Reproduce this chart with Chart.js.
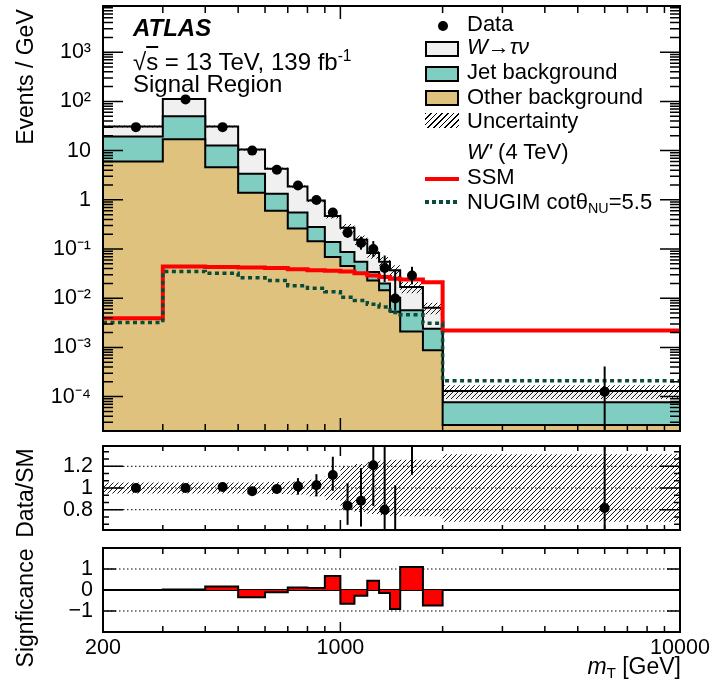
<!DOCTYPE html>
<html>
<head>
<meta charset="utf-8">
<script src="https://cdn.jsdelivr.net/npm/chart.js@4.4.1/dist/chart.umd.min.js"></script>
<style>
  body { margin: 0; background: #fff; width: 716px; height: 687px; position: relative; overflow: hidden;
         font-family: "Liberation Sans", Arial, Helvetica, sans-serif; }
  canvas { position: absolute; left: 0; }
  .t { position: absolute; white-space: nowrap; color: #000; }
  .lab { font-size: 24px; line-height: 28px; left: 133px; }
  .leg { font-size: 22px; line-height: 26px; left: 467px; }
  .ytitle { font-size: 23px; line-height: 28px; transform: translate(-50%, -50%) rotate(-90deg); }
  .box { position: absolute; left: 425px; width: 30px; height: 12px; border: 2px solid #000; }
  sub { font-size: 65%; vertical-align: -0.3em; }
  sup { font-size: 65%; vertical-align: 0.6em; }
</style>
</head>
<body>
<canvas id="mainChart" width="716" height="436" style="top:0px"></canvas>
<canvas id="ratioChart" width="716" height="104" style="top:436px"></canvas>
<canvas id="sigChart" width="716" height="147" style="top:540px"></canvas>

<div class="t lab" style="top:14px;font-weight:bold;font-style:italic">ATLAS</div>
<div class="t lab" style="top:42px">√<span style="text-decoration:overline">s</span> = 13 TeV, 139 fb<sup>-1</sup></div>
<div class="t lab" style="top:70px">Signal Region</div>

<div class="t" style="left:438px;top:21px;width:10px;height:10px;border-radius:50%;background:#000"></div>
<div class="box" style="top:41px;background:#f0f0f0"></div>
<div class="box" style="top:66px;background:#80cdc1"></div>
<div class="box" style="top:90px;background:#dfc27d"></div>
<div class="t" style="left:425px;top:113px;width:34px;height:15px;background:repeating-linear-gradient(135deg,#000 0 1px,transparent 1px 4px)"></div>
<div class="t" style="left:425px;top:177px;width:34px;height:4px;background:#ff0000"></div>
<div class="t" style="left:425px;top:200px;width:34px;height:4px;background:repeating-linear-gradient(90deg,#0a4a3a 0 4px,transparent 4px 7px)"></div>

<div class="t leg" style="top:11px">Data</div>
<div class="t leg" style="top:34px"><i>W</i>→<i>τν</i></div>
<div class="t leg" style="top:59px">Jet background</div>
<div class="t leg" style="top:84px">Other background</div>
<div class="t leg" style="top:108px">Uncertainty</div>
<div class="t leg" style="top:139px"><i>W'</i> (4 TeV)</div>
<div class="t leg" style="top:164px">SSM</div>
<div class="t leg" style="top:189px">NUGIM cotθ<sub>NU</sub>=5.5</div>

<div class="t ytitle" style="left:25px;top:77px">Events / GeV</div>
<div class="t ytitle" style="left:25px;top:493px">Data/SM</div>
<div class="t ytitle" style="left:25px;top:608px">Signficance</div>
<div class="t" style="right:35px;top:653px;font-size:23px;line-height:26px"><i>m</i><sub>T</sub> [GeV]</div>

<script>
// bin edges of the mT histogram (GeV)
const binEdges = [200, 300, 400, 500, 600, 700, 800, 900, 1000, 1100, 1200, 1300, 1400, 1500, 1750, 2000, 10000];

// background components, events / GeV
const otherBkg = [6.0, 17.1, 4.6, 1.39, 0.6, 0.26, 0.143, 0.069, 0.045, 0.031, 0.023, 0.0145, 0.0053, 0.0021, 0.00088, 2.65e-5];
const jetBkg = [13.3, 32.9, 8.1, 2.01, 0.73, 0.29, 0.137, 0.07, 0.042, 0.024, 0.011, 0.0055, 0.0049, 0.0036, 0.00152, 5.05e-5];
const wTauNu = [11.7, 62, 18.3, 7.1, 2.97, 1.32, 0.69, 0.331, 0.183, 0.1, 0.049, 0.035, 0.0268, 0.0113, 0.004, 5.3e-5];
// relative uncertainty on the SM prediction
const bkgUnc = [0.05, 0.05, 0.05, 0.05, 0.055, 0.06, 0.075, 0.11, 0.2, 0.22, 0.24, 0.25, 0.26, 0.26, 0.26, 0.31];

// W' signals
const ssmSignal = [0.0039, 0.044, 0.043, 0.042, 0.041, 0.039, 0.037, 0.036, 0.035, 0.032, 0.029, 0.027, 0.025, 0.024, 0.021, 0.0022];
const nugimSignal = [0.0032, 0.035, 0.032, 0.026, 0.023, 0.018, 0.016, 0.0135, 0.0105, 0.009, 0.0075, 0.0066, 0.0051, 0.0046, 0.0031, 0.00021];

// data, with relative error bars
const dataEvents = [30, 110, 30, 10, 4.1, 1.95, 0.99, 0.55, 0.215, 0.133, 0.10, 0.041, 0.0099, 0.029, null, 1.26e-4];
const dataErrUp = [0.02, 0.01, 0.02, 0.03, 0.04, 0.075, 0.10, 0.15, 0.25, 0.34, 0.45, 0.8, 2.8, 0.5, null, 2.25];
const dataErrDown = [0.02, 0.01, 0.02, 0.03, 0.04, 0.075, 0.10, 0.13, 0.21, 0.27, 0.31, 0.48, 0.43, 0.34, null, 0.83];

// lower panels
const ratioVals = [1.0, 1.0, 1.01, 0.97, 0.99, 1.015, 1.025, 1.12, 0.836, 0.883, 1.21, 0.80, 0.27, 1.7, null, 0.815];
const significance = [0, 0.02, 0.17, -0.35, -0.11, 0.12, 0.09, 0.67, -0.66, -0.27, 0.44, -0.14, -0.9, 1.1, -0.74, 0];

// tick labels
const xTickLabels = [200, 1000, 10000];
const mainYTicks = [1e-4, 1e-3, 1e-2, 1e-1, 1, 10, 100, 1000];
const ratioYTicks = [0.8, 1, 1.2];
const sigYTicks = [-1, 0, 1];

const FONT = '"Liberation Sans", Arial, Helvetica, sans-serif';
const binCentres = binEdges.slice(0, -1).map((e, i) => (e + binEdges[i + 1]) / 2);

// stack the backgrounds
const stackOther = otherBkg;
const stackJet = otherBkg.map((v, i) => v + jetBkg[i]);
const stackTotal = stackJet.map((v, i) => v + wTauNu[i]);

function steps(vals) {
  const pts = vals.map((v, i) => ({ x: binEdges[i], y: v }));
  pts.push({ x: binEdges[binEdges.length - 1], y: vals[vals.length - 1] });
  return pts;
}

function points(vals) {
  return vals.map((v, i) => ({ x: binCentres[i], y: v }));
}

function hatch(ctx) {
  const c = document.createElement("canvas");
  c.width = 5; c.height = 5;
  const g = c.getContext("2d");
  g.strokeStyle = "#000";
  g.lineWidth = 0.9;
  g.beginPath();
  g.moveTo(-1, 6); g.lineTo(6, -1);
  g.moveTo(-1, 1); g.lineTo(1, -1);
  g.moveTo(4, 6); g.lineTo(6, 4);
  g.stroke();
  return ctx.createPattern(c, "repeat");
}

const supMap = { "-": "⁻", "0": "⁰", "1": "¹", "2": "²", "3": "³", "4": "⁴", "5": "⁵" };
function powLabel(v) {
  const e = Math.round(Math.log10(v));
  if (e === 0) return "1";
  if (e === 1) return "10";
  return "10" + String(e).split("").map((ch) => supMap[ch]).join("");
}

// x minor ticks
const xMinor = [2, 3, 4, 5, 6, 7, 8, 9].flatMap((k) => [k * 100, k * 1000]).filter((v) => v > 200 && v < 10000);

// frame, inward ticks and reference lines
const framePlugin = {
  id: "atlasFrame",
  beforeDatasetsDraw(chart, args, opts) {
    const { ctx, chartArea: a, scales } = chart;
    (opts.hLines || []).forEach((l) => {
      const py = scales.y.getPixelForValue(l.v);
      ctx.save();
      ctx.strokeStyle = "#000";
      ctx.lineWidth = l.width;
      ctx.setLineDash(l.dash);
      ctx.beginPath();
      ctx.moveTo(a.left, py);
      ctx.lineTo(a.right, py);
      ctx.stroke();
      ctx.restore();
    });
  },
  afterDraw(chart, args, opts) {
    const { ctx, chartArea: a, scales } = chart;
    ctx.save();
    ctx.strokeStyle = "#000";
    ctx.lineWidth = 1.5;
    ctx.beginPath();
    opts.xTicks.forEach(([v, len]) => {
      const px = scales.x.getPixelForValue(v);
      ctx.moveTo(px, a.bottom); ctx.lineTo(px, a.bottom - len);
      ctx.moveTo(px, a.top); ctx.lineTo(px, a.top + len);
    });
    opts.yTicks.forEach(([v, len]) => {
      const py = scales.y.getPixelForValue(v);
      if (py < a.top - 0.5 || py > a.bottom + 0.5) return;
      ctx.moveTo(a.left, py); ctx.lineTo(a.left + len, py);
      ctx.moveTo(a.right, py); ctx.lineTo(a.right - len, py);
    });
    ctx.stroke();
    ctx.lineWidth = 2;
    ctx.strokeRect(a.left, a.top, a.right - a.left, a.bottom - a.top);
    ctx.restore();
  },
};

// vertical error bars on the data points
const errorBarPlugin = {
  id: "errBars",
  afterDatasetsDraw(chart, args, opts) {
    const { ctx, chartArea: a, scales: { x, y } } = chart;
    ctx.save();
    ctx.beginPath();
    ctx.rect(a.left, a.top, a.right - a.left, a.bottom - a.top);
    ctx.clip();
    ctx.strokeStyle = "#000";
    ctx.lineWidth = 2;
    opts.values.forEach((v, i) => {
      if (v == null) return;
      const px = x.getPixelForValue(binCentres[i]);
      const hi = v * (1 + dataErrUp[i]);
      const lo = v * (1 - dataErrDown[i]);
      const pyHi = Math.max(y.getPixelForValue(hi), a.top - 5);
      const pyLo = lo > 0 ? Math.min(y.getPixelForValue(lo), a.bottom + 5) : a.bottom + 5;
      ctx.beginPath();
      ctx.moveTo(px, pyHi);
      ctx.lineTo(px, pyLo);
      ctx.stroke();
    });
    ctx.restore();
  },
};

// keep the plot frame where the layout puts it: no extra room for label overflow
function fixBox(s, size) {
  if (s.isHorizontal()) s.height = size; else s.width = size;
  s.paddingTop = 0; s.paddingBottom = 0; s.paddingLeft = 0; s.paddingRight = 0;
}

function yAxis(type, min, max, ticks, fmt, pad) {
  return {
    type: type, min: min, max: max, position: "left",
    afterFit: (s) => fixBox(s, 103),
    afterBuildTicks: (s) => { s.ticks = ticks.map((v) => ({ value: v })); },
    grid: { display: false, drawTicks: false },
    border: { display: false },
    ticks: { autoSkip: false, padding: pad, color: "#000", font: { family: FONT, size: 21.5 }, callback: fmt },
  };
}

const common = {
  responsive: false,
  animation: false,
  events: [],
  plugins: { legend: { display: false }, tooltip: { enabled: false } },
};

// main panel
const mainCtx = document.getElementById("mainChart").getContext("2d");
const mainYMinor = [1e-5, 1e-4, 1e-3, 1e-2, 1e-1, 1, 10, 100, 1000]
  .flatMap((d) => [2, 3, 4, 5, 6, 7, 8, 9].map((k) => k * d))
  .filter((v) => v >= 2e-5 && v <= 8700);

new Chart(mainCtx, {
  type: "line",
  data: {
    datasets: [
      { label: "Data", data: points(dataEvents), showLine: false, pointRadius: 5, pointBackgroundColor: "#000", pointBorderWidth: 0, order: 0, clip: 0 },
      { label: "NUGIM", data: steps(nugimSignal), stepped: "before", borderColor: "#0a4a3a", borderWidth: 3.5, borderDash: [4, 3.5], pointRadius: 0, fill: false, order: 1, clip: 0 },
      { label: "SSM", data: steps(ssmSignal), stepped: "before", borderColor: "#ff0000", borderWidth: 4, pointRadius: 0, fill: false, order: 2, clip: 0 },
      { label: "UncUp", data: steps(stackTotal.map((v, i) => v * (1 + bkgUnc[i]))), stepped: "before", borderWidth: 0, pointRadius: 0, fill: "+1", backgroundColor: hatch(mainCtx), order: 3, clip: 0 },
      { label: "UncDown", data: steps(stackTotal.map((v, i) => v * (1 - bkgUnc[i]))), stepped: "before", borderWidth: 0, pointRadius: 0, fill: false, order: 3, clip: 0 },
      { label: "Other background", data: steps(stackOther), stepped: "before", borderColor: "#000", borderWidth: 2, backgroundColor: "#dfc27d", pointRadius: 0, fill: "start", order: 4, clip: 0 },
      { label: "Jet background", data: steps(stackJet), stepped: "before", borderColor: "#000", borderWidth: 2, backgroundColor: "#80cdc1", pointRadius: 0, fill: "start", order: 5, clip: 0 },
      { label: "W→τν", data: steps(stackTotal), stepped: "before", borderColor: "#000", borderWidth: 2, backgroundColor: "#f0f0f0", pointRadius: 0, fill: "start", order: 6, clip: 0 },
    ],
  },
  options: {
    ...common,
    layout: { padding: { left: 0, right: 36, top: 6, bottom: 4 } },
    scales: {
      x: { type: "logarithmic", min: 200, max: 10000, display: false },
      y: yAxis("logarithmic", 2e-5, 8700, mainYTicks, powLabel, 12),
    },
    plugins: {
      ...common.plugins,
      errBars: { values: dataEvents },
      atlasFrame: {
        xTicks: xMinor.map((v) => [v, 7]).concat([[1000, 13]]),
        yTicks: mainYMinor.map((v) => [v, 10]).concat(mainYTicks.map((v) => [v, 20])),
      },
    },
  },
  plugins: [framePlugin, errorBarPlugin],
});

// ratio panel
const ratioCtx = document.getElementById("ratioChart").getContext("2d");
const ratioMinor = [-5, -4, -2, -1, 1, 2, 4, 5].map((k) => 1 + (k * 0.2) / 3);

new Chart(ratioCtx, {
  type: "line",
  data: {
    datasets: [
      { label: "Data/SM", data: points(ratioVals), showLine: false, pointRadius: 5, pointBackgroundColor: "#000", pointBorderWidth: 0, order: 0, clip: 0 },
      { label: "UncUp", data: steps(bkgUnc.map((u) => 1 + u)), stepped: "before", borderWidth: 0, pointRadius: 0, fill: "+1", backgroundColor: hatch(ratioCtx), order: 2, clip: 0 },
      { label: "UncDown", data: steps(bkgUnc.map((u) => 1 - u)), stepped: "before", borderWidth: 0, pointRadius: 0, fill: false, order: 2, clip: 0 },
    ],
  },
  options: {
    ...common,
    layout: { padding: { left: 0, right: 36, top: 10, bottom: 10 } },
    scales: {
      x: { type: "logarithmic", min: 200, max: 10000, display: false },
      y: yAxis("linear", 0.613, 1.387, ratioYTicks, (v) => (v === 1 ? "1" : v.toFixed(1)), 10),
    },
    plugins: {
      ...common.plugins,
      errBars: { values: ratioVals },
      atlasFrame: {
        xTicks: xMinor.map((v) => [v, 5]).concat([[1000, 10]]),
        yTicks: ratioMinor.map((v) => [v, 6]).concat(ratioYTicks.map((v) => [v, 20])),
        hLines: ratioYTicks.map((v) => ({ v: v, width: 1, dash: [1.5, 2.5] })),
      },
    },
  },
  plugins: [framePlugin, errorBarPlugin],
});

// significance panel
const sigCtx = document.getElementById("sigChart").getContext("2d");

new Chart(sigCtx, {
  type: "line",
  data: {
    datasets: [
      { label: "Significance", data: steps(significance), stepped: "before", borderColor: "#000", borderWidth: 2, backgroundColor: "#ff0000", pointRadius: 0, fill: { value: 0 }, clip: 0 },
    ],
  },
  options: {
    ...common,
    layout: { padding: { left: 0, right: 36, top: 8, bottom: 25 } },
    scales: {
      x: {
        type: "logarithmic", min: 200, max: 10000, position: "bottom",
        afterFit: (s) => fixBox(s, 30),
        afterBuildTicks: (s) => { s.ticks = xTickLabels.map((v) => ({ value: v })); },
        grid: { display: false, drawTicks: false },
        border: { display: false },
        ticks: { autoSkip: false, maxRotation: 0, minRotation: 0, padding: 3, color: "#000", font: { family: FONT, size: 21.5 }, callback: (v) => String(v) },
      },
      y: yAxis("linear", -2, 2, sigYTicks, (v) => (v < 0 ? "−" + Math.abs(v) : String(v)), 10),
    },
    plugins: {
      ...common.plugins,
      atlasFrame: {
        xTicks: xMinor.map((v) => [v, 6]).concat([[1000, 10]]),
        yTicks: sigYTicks.map((v) => [v, 13]),
        hLines: [
          { v: 1, width: 1, dash: [1.5, 2.5] },
          { v: -1, width: 1, dash: [1.5, 2.5] },
          { v: 0, width: 2, dash: [] },
        ],
      },
    },
  },
  plugins: [framePlugin],
});
</script>
</body>
</html>
